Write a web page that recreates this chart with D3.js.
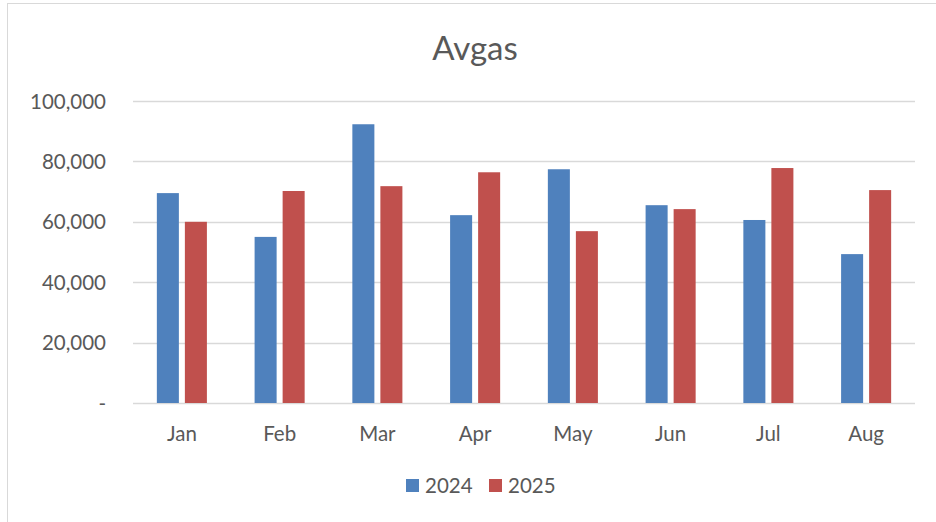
<!DOCTYPE html>
<html>
<head>
<meta charset="utf-8">
<script src="https://cdn.jsdelivr.net/npm/d3@7.9.0/dist/d3.min.js"></script>
<style>
  body { margin: 0; background: #fff; }
  svg text { font-family: Lato, "Open Sans", sans-serif; fill: #595959; }
</style>
</head>
<body>
<svg id="chart" width="936" height="522"></svg>
<script>
// chart data
const months = ['Jan', 'Feb', 'Mar', 'Apr', 'May', 'Jun', 'Jul', 'Aug'];
const seriesNames = ['2024', '2025'];
const values2024 = [69500, 55000, 92300, 62200, 77400, 65500, 60600, 49300];
const values2025 = [60000, 70200, 71800, 76400, 56900, 64200, 77800, 70500];
const yTicks = [0, 20000, 40000, 60000, 80000, 100000];
const colors = ['#4F81BD', '#C0504D'];

const svg = d3.select('#chart');
const width = 936, height = 522;
const margin = { top: 101, right: 21, bottom: 119, left: 133 };

// outer chart border
svg.append('rect')
  .attr('x', 7.5).attr('y', 3.5)
  .attr('width', width + 10).attr('height', height + 10)
  .attr('fill', 'none').attr('stroke', '#d9d9d9');

// title
svg.append('text')
  .attr('x', 475).attr('y', 60)
  .attr('text-anchor', 'middle')
  .style('font-size', '33px')
  .text('Avgas');

let x0 = d3.scaleBand()
  .domain(months)
  .range([margin.left, width - margin.right]);

let bw = x0.bandwidth();
let x1 = d3.scaleBand()
  .domain(seriesNames)
  .range([bw * 0.244, bw * 0.756])
  .paddingInner(0.214);

let y = d3.scaleLinear()
  .domain([0, 100000])
  .range([height - margin.bottom, margin.top]);

// gridlines
svg.append('g')
  .selectAll('line')
  .data(yTicks)
  .join('line')
  .attr('x1', margin.left).attr('x2', width - margin.right)
  .attr('y1', d => Math.round(y(d)) + 0.5)
  .attr('y2', d => Math.round(y(d)) + 0.5)
  .attr('stroke', '#d9d9d9')
  .attr('stroke-width', 1.3);

// y-axis labels
const fmt = d3.format(',');
let yAxis = d3.axisLeft(y)
  .tickValues(yTicks)
  .tickSize(0)
  .tickPadding(0)
  .tickFormat(d => d === 0 ? '-' : fmt(d));

svg.append('g')
  .attr('transform', `translate(${margin.left - 27},0)`)
  .call(yAxis)
  .call(g => g.select('.domain').remove())
  .selectAll('text')
  .style('font-size', '20.5px')
  .attr('dy', '0.35em');

// x-axis labels
let xAxis = d3.axisBottom(x0).tickSize(0).tickPadding(0);
svg.append('g')
  .attr('transform', `translate(0,${height - margin.bottom + 20})`)
  .call(xAxis)
  .call(g => g.select('.domain').remove())
  .selectAll('text')
  .style('font-size', '20.5px')
  .attr('dy', '0.9em');

// bars
const rows = months.map((m, i) => ({ month: m, vals: [values2024[i], values2025[i]] }));
svg.append('g')
  .selectAll('g')
  .data(rows)
  .join('g')
  .attr('transform', d => `translate(${x0(d.month)},0)`)
  .selectAll('rect')
  .data(d => d.vals.map((v, k) => ({ key: seriesNames[k], value: v, k })))
  .join('rect')
  .attr('x', d => x1(d.key))
  .attr('width', x1.bandwidth())
  .attr('y', d => y(d.value))
  .attr('height', d => y(0) - y(d.value))
  .attr('fill', d => colors[d.k]);

// legend
let legend = svg.append('g').attr('transform', 'translate(406,479)');
seriesNames.forEach((name, i) => {
  let item = legend.append('g').attr('transform', `translate(${i * 83},0)`);
  item.append('rect')
    .attr('width', 13).attr('height', 13)
    .attr('fill', colors[i]);
  item.append('text')
    .attr('x', 19).attr('y', 13.5)
    .style('font-size', '20.5px')
    .text(name);
});
</script>
</body>
</html>
